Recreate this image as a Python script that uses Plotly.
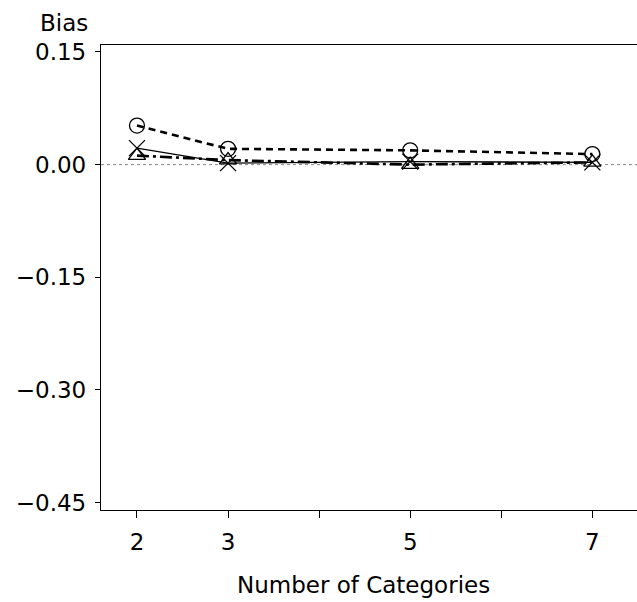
import plotly.graph_objects as go

categories = [2, 3, 5, 7]
bias_circle = [0.052, 0.021, 0.019, 0.014]
bias_x = [0.022, 0.002, 0.004, 0.003]
bias_triangle = [0.012, 0.006, 0.000, 0.003]

x_tickvals = [2, 3, 4, 5, 6, 7]
x_ticktext = ["2", "3", "", "5", "", "7"]
y_tickvals = [0.15, 0.00, -0.15, -0.30, -0.45]
y_ticktext = ["0.15", "0.00", "\u22120.15", "\u22120.30", "\u22120.45"]

FONT = "DejaVu Sans"
FS = 23
W, H = 637, 602
L, R, T, B = 101, 0, 45, 602 - 510
pw, ph = W - L - R, H - T - B


def px_x(x):
    return (x - L) / pw


def px_y(y):
    return (H - B - y) / ph


fig = go.Figure()

fig.add_hline(y=0, line=dict(color="#888888", width=1, dash="dot"), layer="below")

fig.add_trace(go.Scatter(
    x=categories, y=bias_x, mode="lines+markers",
    line=dict(color="black", width=1.3),
    marker=dict(symbol="x-thin-open", size=16, color="black",
                line=dict(color="black", width=1.3)),
    showlegend=False))

fig.add_trace(go.Scatter(
    x=categories, y=bias_triangle, mode="lines+markers",
    line=dict(color="black", width=2.6, dash="12px,4px,3px,4px"),
    marker=dict(symbol="triangle-up-open", size=15, color="black",
                line=dict(color="black", width=1.3)),
    showlegend=False))

fig.add_trace(go.Scatter(
    x=categories, y=bias_circle, mode="lines+markers",
    line=dict(color="black", width=2.6, dash="7px,5px"),
    marker=dict(symbol="circle-open", size=15, color="black",
                line=dict(color="black", width=1.3)),
    showlegend=False))

fig.update_layout(
    width=W, height=H,
    margin=dict(l=L, r=R, t=T, b=B, autoexpand=False),
    paper_bgcolor="white", plot_bgcolor="white",
    font=dict(family=FONT, size=FS, color="black"),
    xaxis=dict(range=[1.605, 7.49], tickvals=x_tickvals, ticktext=x_ticktext,
               showgrid=False, zeroline=False, showline=True, linecolor="black",
               linewidth=1.3, mirror=True, ticks="outside", ticklen=7,
               tickcolor="black", tickwidth=1.3, ticklabelstandoff=4,
               tickfont=dict(family=FONT, size=FS)),
    yaxis=dict(range=[-0.46, 0.1593], tickvals=y_tickvals, ticktext=y_ticktext,
               showgrid=False, zeroline=False, showline=True, linecolor="black",
               linewidth=1.3, ticks="outside", ticklen=5, tickcolor="black",
               tickwidth=1.3, ticklabelstandoff=4,
               tickfont=dict(family=FONT, size=FS)),
    annotations=[
        dict(text="Bias", xref="paper", yref="paper",
             x=px_x(64), y=px_y(23), xanchor="center", yanchor="middle",
             showarrow=False, font=dict(family=FONT, size=FS)),
        dict(text="Number of Categories", xref="paper", yref="paper",
             x=px_x(363), y=px_y(585), xanchor="center", yanchor="middle",
             showarrow=False, font=dict(family=FONT, size=FS)),
    ],
)

fig.write_html(
    "out.html",
    config={"displayModeBar": False},
    post_script="document.body.style.margin='0';"
                "document.documentElement.style.overflow='hidden';"
                "document.body.style.overflow='hidden';",
)
